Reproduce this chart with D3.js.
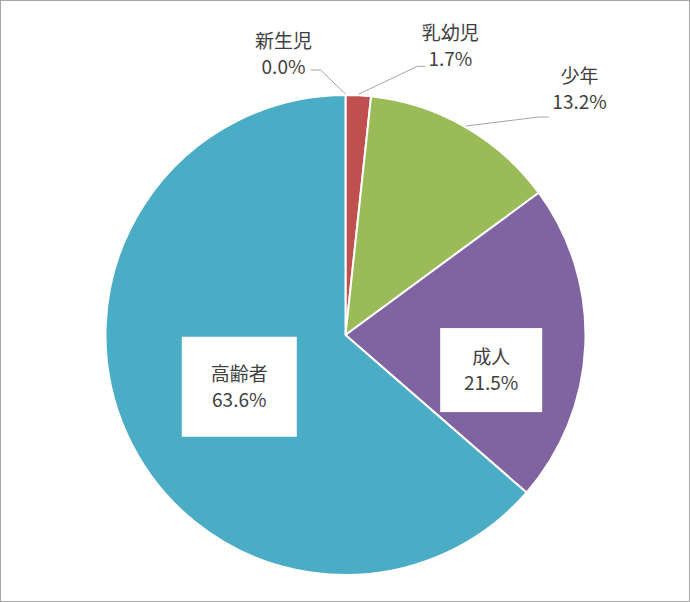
<!DOCTYPE html>
<html>
<head>
<meta charset="utf-8">
<script src="https://cdn.jsdelivr.net/npm/d3@7"></script>
<style>
  html, body { margin: 0; padding: 0; background: #fff; }
  svg { display: block; }
</style>
</head>
<body>
<div id="chart"></div>
<script>
const categories = ['新生児', '乳幼児', '少年', '成人', '高齢者'];
const shares = [0.0, 1.7, 13.2, 21.5, 63.6];
const colors = ['#4F81BD', '#C0504D', '#9BBB59', '#8064A2', '#4BACC6'];

const WIDTH = 690;
const HEIGHT = 602;
const CX = 345.5;
const CY = 335;
const R = 240;

const FONT = '"Noto Sans CJK JP", "Noto Sans", sans-serif';
const TEXT_COLOR = '#404040';
const LINE_H = 26;

// Label placement (Excel style): outside labels get a leader, inside ones a white box.
// dx/dy = label centre offset from the point on the rim at the slice's mid angle.
const labelLayout = [
  { mode: 'out', dx: -62, dy: -40, elbow: [-25, -24], end: [-35, -24] },
  { mode: 'out', dx: 92, dy: -48, elbow: [59, -28], end: [67, -28] },
  { mode: 'out', dx: 114, dy: -37, elbow: [73, -9], end: [83, -9] },
  { mode: 'in', r: 0.62, shift: [-3, 29], w: 102, h: 84 },
  { mode: 'in', r: 0.5, shift: [3, 2], w: 115, h: 100 }
];

const svg = d3.select('#chart')
  .append('svg')
  .attr('width', WIDTH)
  .attr('height', HEIGHT);

svg.append('rect')
  .attr('x', 0.5).attr('y', 0.5)
  .attr('width', WIDTH - 1).attr('height', HEIGHT - 1)
  .attr('fill', '#fff')
  .attr('stroke', '#a6a6a6')
  .attr('stroke-width', 1);

const pie = d3.pie().sort(null).value((d) => d);
const arcs = pie(shares);

const arc = d3.arc().innerRadius(0).outerRadius(R);

const g = svg.append('g').attr('transform', `translate(${CX},${CY})`);

g.selectAll('path.slice')
  .data(arcs)
  .join('path')
  .attr('class', 'slice')
  .attr('d', arc)
  .attr('fill', (d, i) => colors[i])
  .attr('stroke', '#fff')
  .attr('stroke-width', 2)
  .attr('stroke-linejoin', 'round');

const fmt = (v) => v.toFixed(1) + '%';

function rimPoint(d, r) {
  const a = (d.startAngle + d.endAngle) / 2;
  return [r * Math.sin(a), -r * Math.cos(a)];
}

arcs.forEach((d, i) => {
  const lay = labelLayout[i];
  let lx, ly;
  if (lay.mode === 'out') {
    const [px, py] = rimPoint(d, R + 1);
    lx = px + lay.dx;
    ly = py + lay.dy;
    g.append('polyline')
      .attr('points', [
        [px, py],
        [px + lay.elbow[0], py + lay.elbow[1]],
        [px + lay.end[0], py + lay.end[1]]
      ].map((p) => p.join(',')).join(' '))
      .attr('fill', 'none')
      .attr('stroke', '#a6a6a6')
      .attr('stroke-width', 1);
  } else {
    const [px, py] = rimPoint(d, R * lay.r);
    lx = px + lay.shift[0];
    ly = py + lay.shift[1];
    g.append('rect')
      .attr('x', lx - lay.w / 2)
      .attr('y', ly - lay.h / 2)
      .attr('width', lay.w)
      .attr('height', lay.h)
      .attr('fill', '#fff');
  }
  const t = g.append('text')
    .attr('text-anchor', 'middle')
    .attr('font-family', FONT)
    .attr('font-size', 19)
    .attr('fill', TEXT_COLOR);
  t.append('tspan')
    .attr('x', lx)
    .attr('y', ly - LINE_H / 2)
    .attr('dy', '0.36em')
    .text(categories[i]);
  t.append('tspan')
    .attr('x', lx)
    .attr('y', ly + LINE_H / 2)
    .attr('dy', '0.36em')
    .text(fmt(shares[i]));
});
</script>
</body>
</html>
